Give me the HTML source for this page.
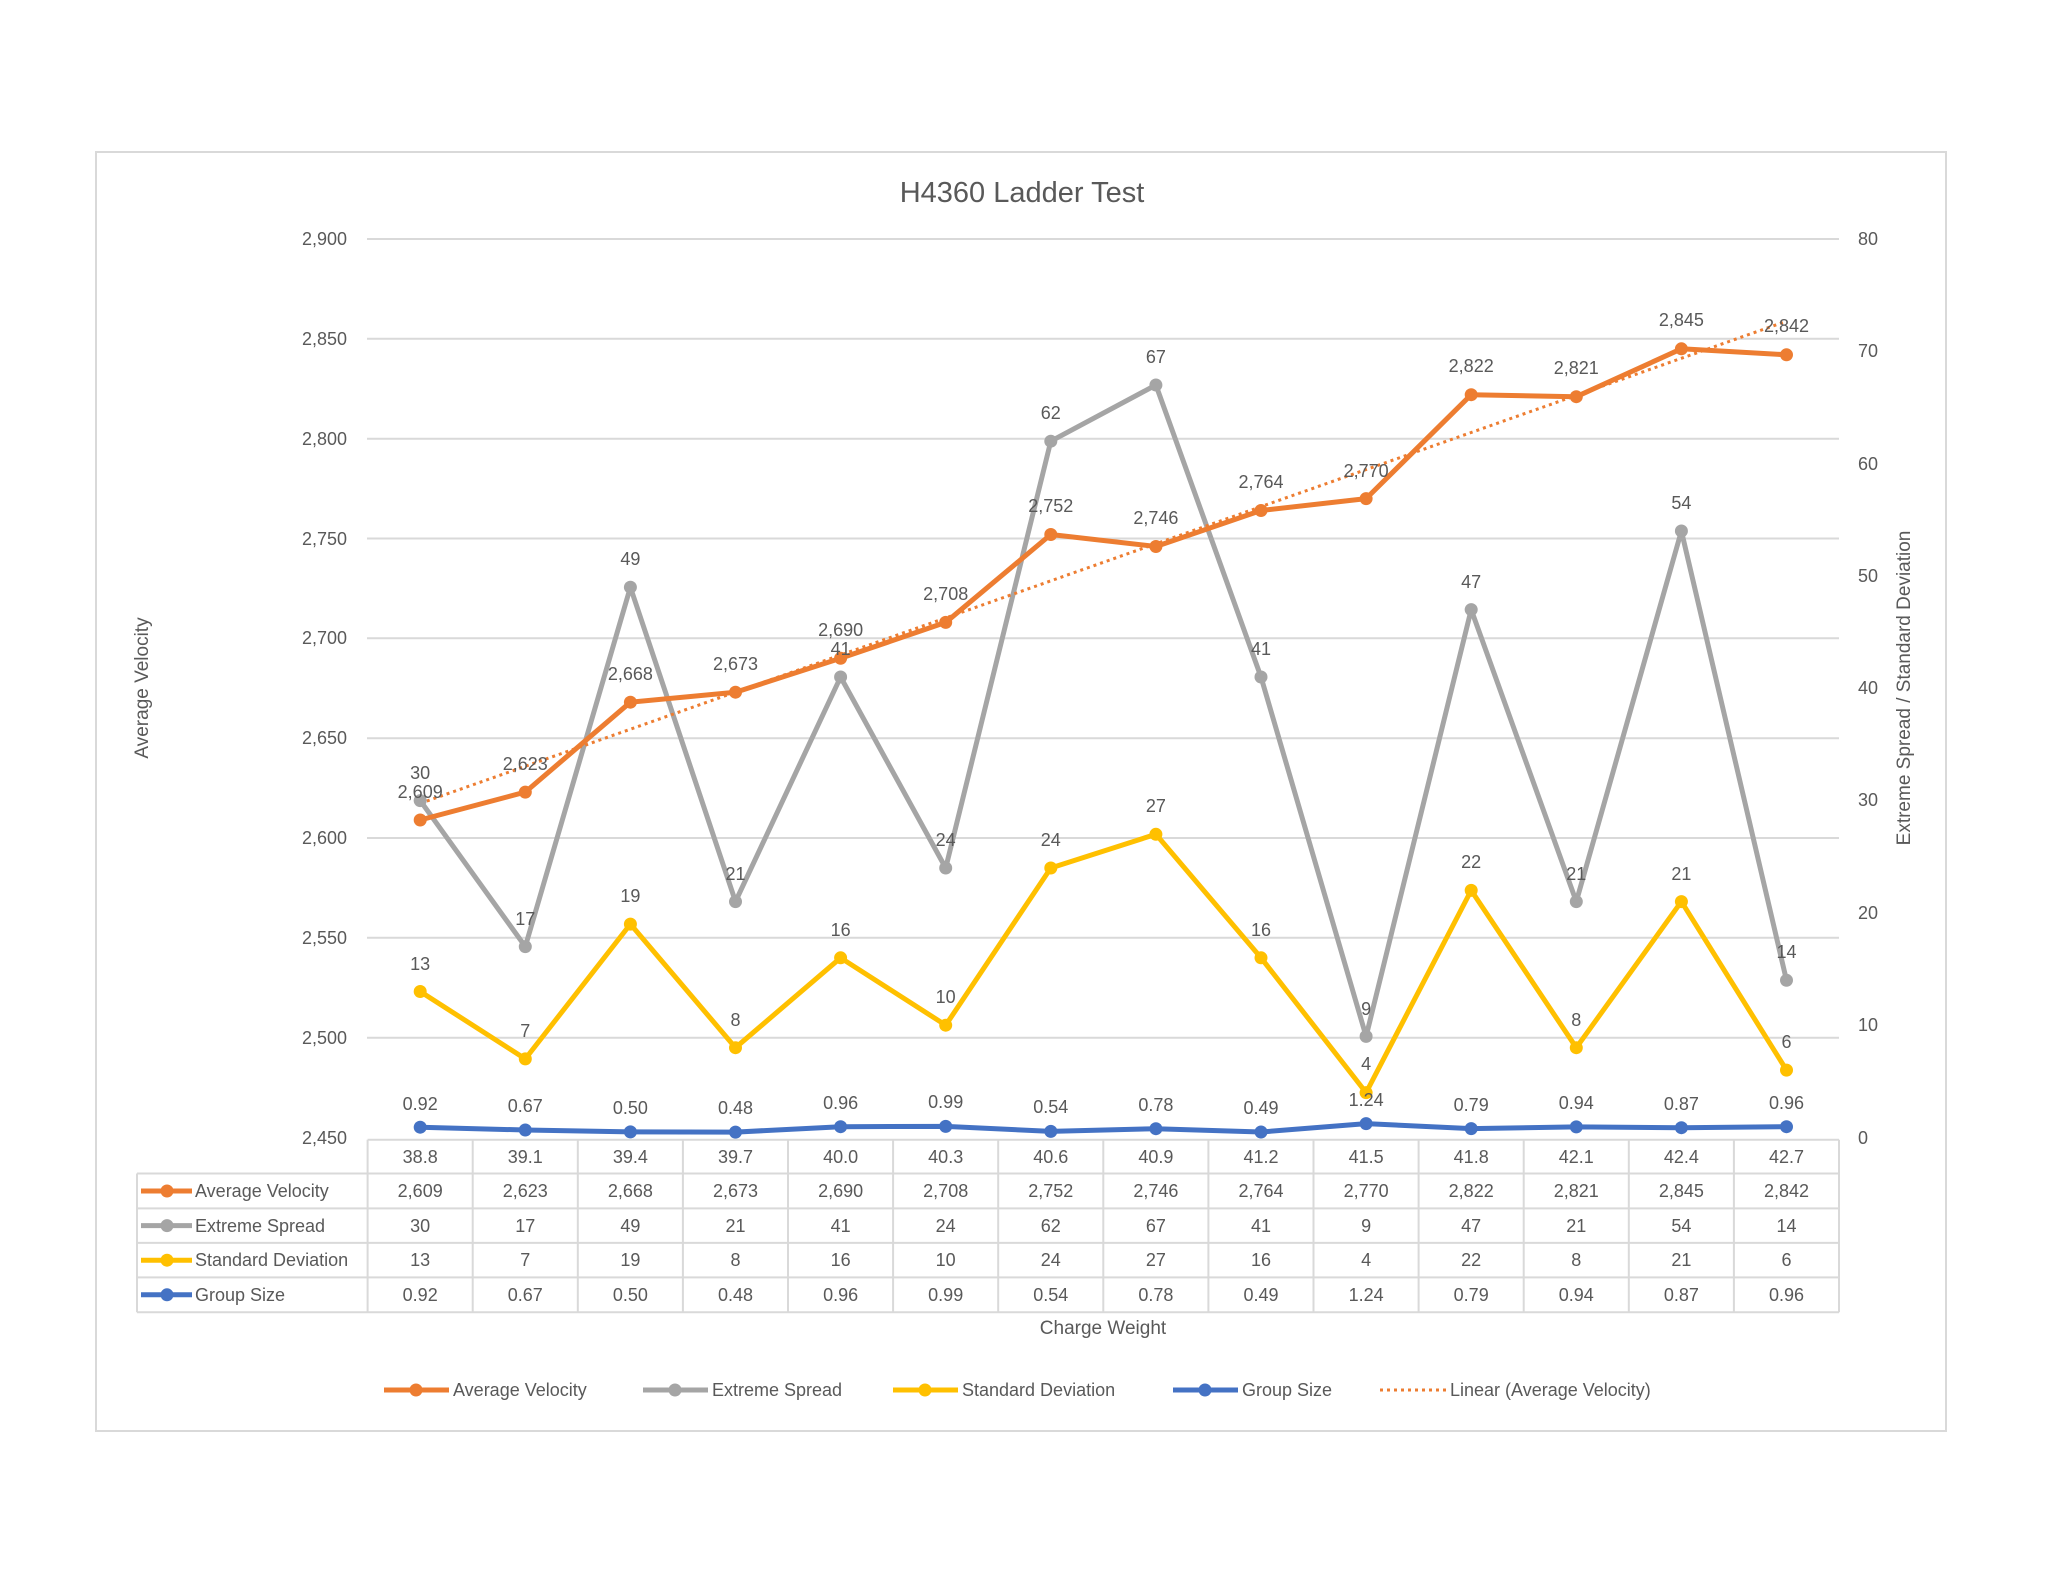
<!DOCTYPE html>
<html><head><meta charset="utf-8"><style>
html,body{margin:0;padding:0;background:#fff;}
svg{display:block;}
text{font-family:"Liberation Sans",sans-serif;fill:#595959;}
</style></head><body>
<svg width="2048" height="1582" viewBox="0 0 2048 1582" xmlns="http://www.w3.org/2000/svg">
<rect x="96" y="152" width="1850" height="1279" fill="#fff" stroke="#d9d9d9" stroke-width="2"/>
<text x="1022" y="202" font-size="29" text-anchor="middle">H4360 Ladder Test</text>
<g stroke="#d9d9d9" stroke-width="2">
<line x1="367" y1="239" x2="1839" y2="239"/><line x1="367" y1="338.8" x2="1839" y2="338.8"/>
<line x1="367" y1="438.7" x2="1839" y2="438.7"/><line x1="367" y1="538.5" x2="1839" y2="538.5"/>
<line x1="367" y1="638.3" x2="1839" y2="638.3"/><line x1="367" y1="738.2" x2="1839" y2="738.2"/>
<line x1="367" y1="838" x2="1839" y2="838"/><line x1="367" y1="937.8" x2="1839" y2="937.8"/>
<line x1="367" y1="1037.7" x2="1839" y2="1037.7"/>
</g>
<g font-size="18" text-anchor="end">
<text x="347" y="245">2,900</text><text x="347" y="345">2,850</text><text x="347" y="445">2,800</text>
<text x="347" y="545">2,750</text><text x="347" y="644">2,700</text><text x="347" y="744">2,650</text>
<text x="347" y="844">2,600</text><text x="347" y="944">2,550</text><text x="347" y="1044">2,500</text>
<text x="347" y="1144">2,450</text>
</g>
<g font-size="18">
<text x="1858" y="245">80</text><text x="1858" y="357">70</text><text x="1858" y="470">60</text>
<text x="1858" y="582">50</text><text x="1858" y="694">40</text><text x="1858" y="806">30</text>
<text x="1858" y="919">20</text><text x="1858" y="1031">10</text>
<text x="1858" y="1144">0</text>
</g>
<text transform="translate(148,688) rotate(-90)" font-size="19" text-anchor="middle">Average Velocity</text>
<text transform="translate(1910,688) rotate(-90)" font-size="19" text-anchor="middle">Extreme Spread / Standard Deviation</text>

<g stroke="#d9d9d9" stroke-width="2" fill="none">
<line x1="367.6" y1="1139.7" x2="1839" y2="1139.7"/>
<line x1="137" y1="1173.5" x2="1839" y2="1173.5"/>
<line x1="137" y1="1208.4" x2="1839" y2="1208.4"/>
<line x1="137" y1="1242.9" x2="1839" y2="1242.9"/>
<line x1="137" y1="1277.4" x2="1839" y2="1277.4"/>
<line x1="137" y1="1312.3" x2="1839" y2="1312.3"/>
<line x1="137" y1="1173.5" x2="137" y2="1312.3"/>
<line x1="367.6" y1="1139.7" x2="367.6" y2="1312.3"/>
<line x1="472.7" y1="1139.7" x2="472.7" y2="1312.3"/><line x1="577.8" y1="1139.7" x2="577.8" y2="1312.3"/>
<line x1="682.9" y1="1139.7" x2="682.9" y2="1312.3"/><line x1="788" y1="1139.7" x2="788" y2="1312.3"/>
<line x1="893.1" y1="1139.7" x2="893.1" y2="1312.3"/><line x1="998.2" y1="1139.7" x2="998.2" y2="1312.3"/>
<line x1="1103.3" y1="1139.7" x2="1103.3" y2="1312.3"/><line x1="1208.4" y1="1139.7" x2="1208.4" y2="1312.3"/>
<line x1="1313.5" y1="1139.7" x2="1313.5" y2="1312.3"/><line x1="1418.6" y1="1139.7" x2="1418.6" y2="1312.3"/>
<line x1="1523.7" y1="1139.7" x2="1523.7" y2="1312.3"/><line x1="1628.8" y1="1139.7" x2="1628.8" y2="1312.3"/>
<line x1="1733.9" y1="1139.7" x2="1733.9" y2="1312.3"/><line x1="1839" y1="1139.7" x2="1839" y2="1312.3"/>
</g>
<g stroke-width="5">
<line x1="141" y1="1191" x2="192" y2="1191" stroke="#ED7D31"/><circle cx="167" cy="1191" r="6.5" fill="#ED7D31"/>
<line x1="141" y1="1225.6" x2="192" y2="1225.6" stroke="#A5A5A5"/><circle cx="167" cy="1225.6" r="6.5" fill="#A5A5A5"/>
<line x1="141" y1="1260.2" x2="192" y2="1260.2" stroke="#FFC000"/><circle cx="167" cy="1260.2" r="6.5" fill="#FFC000"/>
<line x1="141" y1="1294.8" x2="192" y2="1294.8" stroke="#4472C4"/><circle cx="167" cy="1294.8" r="6.5" fill="#4472C4"/>
</g>
<g font-size="18">
<text x="195" y="1197">Average Velocity</text>
<text x="195" y="1232">Extreme Spread</text>
<text x="195" y="1266">Standard Deviation</text>
<text x="195" y="1301">Group Size</text>
</g>
<g font-size="18" text-anchor="middle">
<text x="420.2" y="1163">38.8</text><text x="525.3" y="1163">39.1</text><text x="630.4" y="1163">39.4</text><text x="735.5" y="1163">39.7</text><text x="840.6" y="1163">40.0</text><text x="945.7" y="1163">40.3</text><text x="1050.8" y="1163">40.6</text><text x="1155.9" y="1163">40.9</text><text x="1261" y="1163">41.2</text><text x="1366.1" y="1163">41.5</text><text x="1471.2" y="1163">41.8</text><text x="1576.3" y="1163">42.1</text><text x="1681.4" y="1163">42.4</text><text x="1786.5" y="1163">42.7</text>
<text x="420.2" y="1197">2,609</text><text x="525.3" y="1197">2,623</text><text x="630.4" y="1197">2,668</text><text x="735.5" y="1197">2,673</text><text x="840.6" y="1197">2,690</text><text x="945.7" y="1197">2,708</text><text x="1050.8" y="1197">2,752</text><text x="1155.9" y="1197">2,746</text><text x="1261" y="1197">2,764</text><text x="1366.1" y="1197">2,770</text><text x="1471.2" y="1197">2,822</text><text x="1576.3" y="1197">2,821</text><text x="1681.4" y="1197">2,845</text><text x="1786.5" y="1197">2,842</text>
<text x="420.2" y="1232">30</text><text x="525.3" y="1232">17</text><text x="630.4" y="1232">49</text><text x="735.5" y="1232">21</text><text x="840.6" y="1232">41</text><text x="945.7" y="1232">24</text><text x="1050.8" y="1232">62</text><text x="1155.9" y="1232">67</text><text x="1261" y="1232">41</text><text x="1366.1" y="1232">9</text><text x="1471.2" y="1232">47</text><text x="1576.3" y="1232">21</text><text x="1681.4" y="1232">54</text><text x="1786.5" y="1232">14</text>
<text x="420.2" y="1266">13</text><text x="525.3" y="1266">7</text><text x="630.4" y="1266">19</text><text x="735.5" y="1266">8</text><text x="840.6" y="1266">16</text><text x="945.7" y="1266">10</text><text x="1050.8" y="1266">24</text><text x="1155.9" y="1266">27</text><text x="1261" y="1266">16</text><text x="1366.1" y="1266">4</text><text x="1471.2" y="1266">22</text><text x="1576.3" y="1266">8</text><text x="1681.4" y="1266">21</text><text x="1786.5" y="1266">6</text>
<text x="420.2" y="1301">0.92</text><text x="525.3" y="1301">0.67</text><text x="630.4" y="1301">0.50</text><text x="735.5" y="1301">0.48</text><text x="840.6" y="1301">0.96</text><text x="945.7" y="1301">0.99</text><text x="1050.8" y="1301">0.54</text><text x="1155.9" y="1301">0.78</text><text x="1261" y="1301">0.49</text><text x="1366.1" y="1301">1.24</text><text x="1471.2" y="1301">0.79</text><text x="1576.3" y="1301">0.94</text><text x="1681.4" y="1301">0.87</text><text x="1786.5" y="1301">0.96</text>
</g>
<text x="1103" y="1334" font-size="19" text-anchor="middle">Charge Weight</text>

<g fill="none" stroke-width="5" stroke-linejoin="round">
<polyline stroke="#A5A5A5" points="420.2,800.6 525.3,946.6 630.4,587.2 735.5,901.6 840.6,677 945.7,868 1050.8,441.2 1155.9,385 1261,677 1366.1,1036.4 1471.2,609.6 1576.3,901.6 1681.4,531 1786.5,980.3"/>
<polyline stroke="#FFC000" points="420.2,991.5 525.3,1058.9 630.4,924.1 735.5,1047.7 840.6,957.8 945.7,1025.2 1050.8,868 1155.9,834.3 1261,957.8 1366.1,1092.6 1471.2,890.4 1576.3,1047.7 1681.4,901.6 1786.5,1070.1"/>
<polyline stroke="#4472C4" points="420.2,1127.2 525.3,1130 630.4,1131.9 735.5,1132.1 840.6,1126.7 945.7,1126.4 1050.8,1131.4 1155.9,1128.7 1261,1132 1366.1,1123.6 1471.2,1128.6 1576.3,1126.9 1681.4,1127.7 1786.5,1126.7"/>
<polyline stroke="#ED7D31" points="420.2,820 525.3,792.1 630.4,702.2 735.5,692.2 840.6,658.3 945.7,622.4 1050.8,534.5 1155.9,546.5 1261,510.5 1366.1,498.6 1471.2,394.7 1576.3,396.7 1681.4,348.8 1786.5,354.8"/>
<line x1="420.2" y1="803.4" x2="1786.5" y2="321.2" stroke="#ED7D31" stroke-width="3" stroke-dasharray="3,4"/>
</g>
<g fill="#A5A5A5"><circle cx="420.2" cy="800.6" r="6.5"/><circle cx="525.3" cy="946.6" r="6.5"/><circle cx="630.4" cy="587.2" r="6.5"/><circle cx="735.5" cy="901.6" r="6.5"/><circle cx="840.6" cy="677" r="6.5"/><circle cx="945.7" cy="868" r="6.5"/><circle cx="1050.8" cy="441.2" r="6.5"/><circle cx="1155.9" cy="385" r="6.5"/><circle cx="1261" cy="677" r="6.5"/><circle cx="1366.1" cy="1036.4" r="6.5"/><circle cx="1471.2" cy="609.6" r="6.5"/><circle cx="1576.3" cy="901.6" r="6.5"/><circle cx="1681.4" cy="531" r="6.5"/><circle cx="1786.5" cy="980.3" r="6.5"/></g>
<g fill="#FFC000"><circle cx="420.2" cy="991.5" r="6.5"/><circle cx="525.3" cy="1058.9" r="6.5"/><circle cx="630.4" cy="924.1" r="6.5"/><circle cx="735.5" cy="1047.7" r="6.5"/><circle cx="840.6" cy="957.8" r="6.5"/><circle cx="945.7" cy="1025.2" r="6.5"/><circle cx="1050.8" cy="868" r="6.5"/><circle cx="1155.9" cy="834.3" r="6.5"/><circle cx="1261" cy="957.8" r="6.5"/><circle cx="1366.1" cy="1092.6" r="6.5"/><circle cx="1471.2" cy="890.4" r="6.5"/><circle cx="1576.3" cy="1047.7" r="6.5"/><circle cx="1681.4" cy="901.6" r="6.5"/><circle cx="1786.5" cy="1070.1" r="6.5"/></g>
<g fill="#4472C4"><circle cx="420.2" cy="1127.2" r="6.5"/><circle cx="525.3" cy="1130" r="6.5"/><circle cx="630.4" cy="1131.9" r="6.5"/><circle cx="735.5" cy="1132.1" r="6.5"/><circle cx="840.6" cy="1126.7" r="6.5"/><circle cx="945.7" cy="1126.4" r="6.5"/><circle cx="1050.8" cy="1131.4" r="6.5"/><circle cx="1155.9" cy="1128.7" r="6.5"/><circle cx="1261" cy="1132" r="6.5"/><circle cx="1366.1" cy="1123.6" r="6.5"/><circle cx="1471.2" cy="1128.6" r="6.5"/><circle cx="1576.3" cy="1126.9" r="6.5"/><circle cx="1681.4" cy="1127.7" r="6.5"/><circle cx="1786.5" cy="1126.7" r="6.5"/></g>
<g fill="#ED7D31"><circle cx="420.2" cy="820" r="6.5"/><circle cx="525.3" cy="792.1" r="6.5"/><circle cx="630.4" cy="702.2" r="6.5"/><circle cx="735.5" cy="692.2" r="6.5"/><circle cx="840.6" cy="658.3" r="6.5"/><circle cx="945.7" cy="622.4" r="6.5"/><circle cx="1050.8" cy="534.5" r="6.5"/><circle cx="1155.9" cy="546.5" r="6.5"/><circle cx="1261" cy="510.5" r="6.5"/><circle cx="1366.1" cy="498.6" r="6.5"/><circle cx="1471.2" cy="394.7" r="6.5"/><circle cx="1576.3" cy="396.7" r="6.5"/><circle cx="1681.4" cy="348.8" r="6.5"/><circle cx="1786.5" cy="354.8" r="6.5"/></g>

<g font-size="18" text-anchor="middle">
<text x="420.2" y="798">2,609</text><text x="525.3" y="770">2,623</text><text x="630.4" y="680">2,668</text><text x="735.5" y="670">2,673</text><text x="840.6" y="636">2,690</text><text x="945.7" y="600">2,708</text><text x="1050.8" y="512">2,752</text><text x="1155.9" y="524">2,746</text><text x="1261" y="488">2,764</text><text x="1366.1" y="477">2,770</text><text x="1471.2" y="372">2,822</text><text x="1576.3" y="374">2,821</text><text x="1681.4" y="326">2,845</text><text x="1786.5" y="332">2,842</text>
<text x="420.2" y="779">30</text><text x="525.3" y="925">17</text><text x="630.4" y="565">49</text><text x="735.5" y="880">21</text><text x="840.6" y="655">41</text><text x="945.7" y="846">24</text><text x="1050.8" y="419">62</text><text x="1155.9" y="363">67</text><text x="1261" y="655">41</text><text x="1366.1" y="1015">9</text><text x="1471.2" y="588">47</text><text x="1576.3" y="880">21</text><text x="1681.4" y="509">54</text><text x="1786.5" y="958">14</text>
<text x="420.2" y="970">13</text><text x="525.3" y="1037">7</text><text x="630.4" y="902">19</text><text x="735.5" y="1026">8</text><text x="840.6" y="936">16</text><text x="945.7" y="1003">10</text><text x="1050.8" y="846">24</text><text x="1155.9" y="812">27</text><text x="1261" y="936">16</text><text x="1366.1" y="1070">4</text><text x="1471.2" y="868">22</text><text x="1576.3" y="1026">8</text><text x="1681.4" y="880">21</text><text x="1786.5" y="1048">6</text>
<text x="420.2" y="1110">0.92</text><text x="525.3" y="1112">0.67</text><text x="630.4" y="1114">0.50</text><text x="735.5" y="1114">0.48</text><text x="840.6" y="1109">0.96</text><text x="945.7" y="1108">0.99</text><text x="1050.8" y="1113">0.54</text><text x="1155.9" y="1111">0.78</text><text x="1261" y="1114">0.49</text><text x="1366.1" y="1106">1.24</text><text x="1471.2" y="1111">0.79</text><text x="1576.3" y="1109">0.94</text><text x="1681.4" y="1110">0.87</text><text x="1786.5" y="1109">0.96</text>
</g>

<g stroke-width="5">
<line x1="384" y1="1390" x2="449" y2="1390" stroke="#ED7D31"/><circle cx="416" cy="1390" r="6.5" fill="#ED7D31"/>
<line x1="643" y1="1390" x2="708" y2="1390" stroke="#A5A5A5"/><circle cx="675" cy="1390" r="6.5" fill="#A5A5A5"/>
<line x1="893" y1="1390" x2="958" y2="1390" stroke="#FFC000"/><circle cx="925" cy="1390" r="6.5" fill="#FFC000"/>
<line x1="1173" y1="1390" x2="1238" y2="1390" stroke="#4472C4"/><circle cx="1205" cy="1390" r="6.5" fill="#4472C4"/>
<line x1="1380" y1="1390" x2="1446" y2="1390" stroke="#ED7D31" stroke-width="3" stroke-dasharray="3,4"/>
</g>
<g font-size="18">
<text x="453" y="1396">Average Velocity</text>
<text x="712" y="1396">Extreme Spread</text>
<text x="962" y="1396">Standard Deviation</text>
<text x="1242" y="1396">Group Size</text>
<text x="1450" y="1396">Linear (Average Velocity)</text>
</g>
</svg>
</body></html>
